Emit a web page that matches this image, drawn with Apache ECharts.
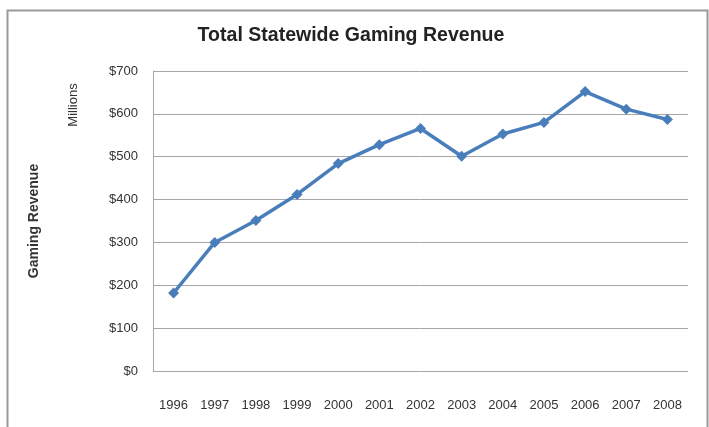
<!DOCTYPE html>
<html>
<head>
<meta charset="utf-8">
<script src="https://cdn.jsdelivr.net/npm/echarts@6/dist/echarts.min.js"></script>
<style>html,body{margin:0;padding:0;background:#fff;}#c{width:709px;height:427px;}</style>
</head>
<body>
<div id="c"></div>
<script>
var years = ['1996','1997','1998','1999','2000','2001','2002','2003','2004','2005','2006','2007','2008'];
var revenue = [182, 300, 351, 412, 484, 528, 566, 501, 553, 580, 652, 611, 587];
var yTicks = [0, 100, 200, 300, 400, 500, 600, 700];

var FONT = '"Liberation Sans", Arial, sans-serif';
var chart = echarts.init(document.getElementById('c'), null, {renderer: 'canvas'});
chart.setOption({
  animation: false,
  backgroundColor: '#fff',
  grid: {left: 153, right: 21, top: 71, bottom: 56, containLabel: false},
  xAxis: {
    type: 'category',
    data: years,
    boundaryGap: true,
    axisLine: {show: false},
    axisTick: {show: false},
    axisLabel: {fontFamily: FONT, fontSize: 13, color: '#333', margin: 28, interval: 0}
  },
  yAxis: {
    type: 'value',
    min: yTicks[0],
    max: yTicks[yTicks.length - 1],
    interval: 100,
    name: 'Gaming Revenue',
    nameLocation: 'middle',
    nameGap: 112,
    nameRotate: 90,
    nameTextStyle: {fontFamily: FONT, fontSize: 14, fontWeight: 'bold', color: '#333'},
    axisLine: {show: true, lineStyle: {color: '#a6a6a6', width: 1}},
    axisTick: {show: false},
    splitLine: {lineStyle: {color: '#a6a6a6', width: 1}},
    axisLabel: {fontFamily: FONT, fontSize: 13, color: '#333', margin: 15,
      formatter: function (v) { return '$' + v; }}
  },
  graphic: [
    {type: 'rect', left: 5, top: 8, shape: {width: 700, height: 430},
     style: {fill: 'none', stroke: '#9a9a9a', lineWidth: 2}, silent: true},
    {type: 'text', x: 351, y: 35, scaleX: 0.93,
     style: {text: 'Total Statewide Gaming Revenue', font: 'bold 21px ' + FONT, fill: '#222',
       align: 'center', verticalAlign: 'middle'}},
    {type: 'text', x: 73, y: 105, rotation: Math.PI / 2,
     style: {text: 'Millions', font: '13px ' + FONT, fill: '#333', align: 'center', verticalAlign: 'middle'}}
  ],
  series: [{
    type: 'line',
    data: revenue,
    symbol: 'diamond',
    symbolSize: 11,
    lineStyle: {color: '#4a7ebb', width: 3.5},
    itemStyle: {color: '#4a7ebb'}
  }]
});
</script>
</body>
</html>
